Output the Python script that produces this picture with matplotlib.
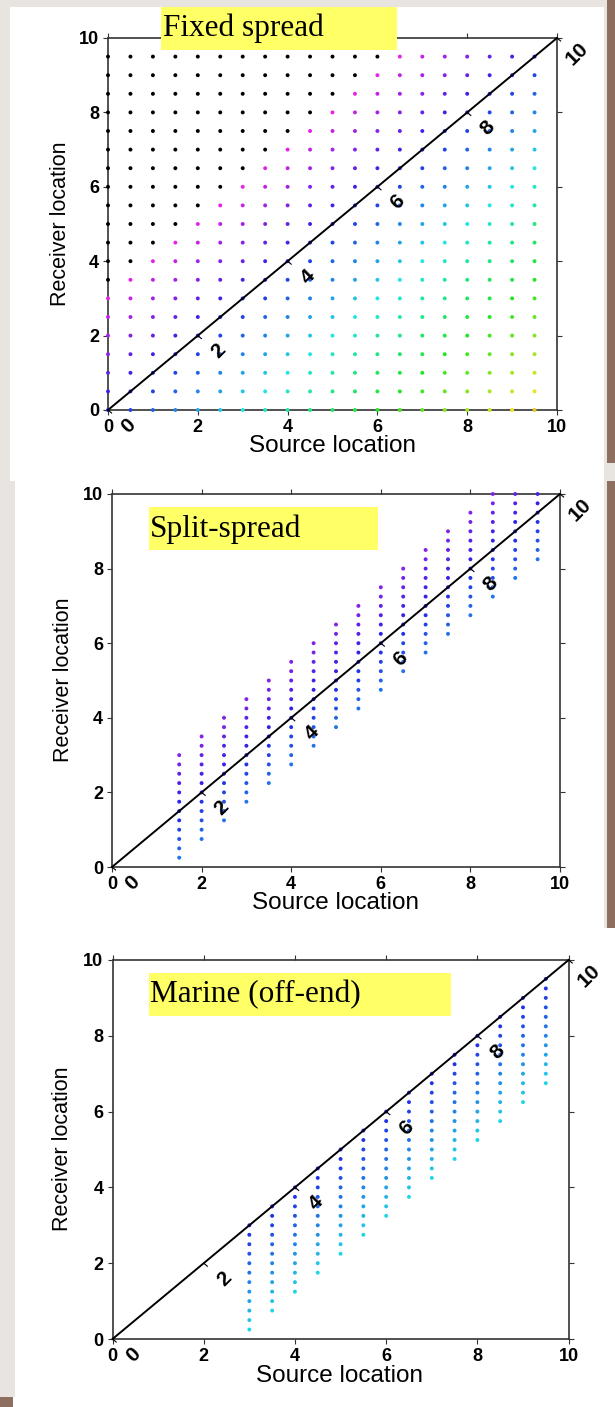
import matplotlib
matplotlib.use("Agg")
import matplotlib.pyplot as plt
from matplotlib.patches import Rectangle
from matplotlib.colors import hsv_to_rgb

# ---------------------------------------------------------------- data
# Fixed spread: every receiver station is live for every shot
FIXED_SOURCES = [0.0, 0.5, 1.0, 1.5, 2.0, 2.5, 3.0, 3.5, 4.0, 4.5,
                 5.0, 5.5, 6.0, 6.5, 7.0, 7.5, 8.0, 8.5, 9.0, 9.5]
FIXED_RECEIVERS = [0.0, 0.5, 1.0, 1.5, 2.0, 2.5, 3.0, 3.5, 4.0, 4.5,
                   5.0, 5.5, 6.0, 6.5, 7.0, 7.5, 8.0, 8.5, 9.0, 9.5]
FIXED_MAX_COLOURED_OFFSET = 3.0   # larger receiver-minus-source offsets plot black

# Split-spread: receivers on both sides of each shot
SPLIT_SOURCES = [1.5, 2.0, 2.5, 3.0, 3.5, 4.0, 4.5, 5.0, 5.5,
                 6.0, 6.5, 7.0, 7.5, 8.0, 8.5, 9.0, 9.5]
SPLIT_OFFSETS = [-1.25, -1.0, -0.75, -0.5, -0.25, 0.0,
                 0.25, 0.5, 0.75, 1.0, 1.25, 1.5]

# Marine (off-end): streamer trails behind the shot
MARINE_SOURCES = [3.0, 3.5, 4.0, 4.5, 5.0, 5.5, 6.0, 6.5,
                  7.0, 7.5, 8.0, 8.5, 9.0, 9.5]
MARINE_OFFSETS = [-2.75, -2.5, -2.25, -2.0, -1.75, -1.5,
                  -1.25, -1.0, -0.75, -0.5, -0.25, 0.0]

LINE_LENGTH = 10.0
AXIS_TICKS = [0, 2, 4, 6, 8, 10]
DIAGONAL_TICKS = [0, 2, 4, 6, 8, 10]
PANEL_TITLES = ["Fixed spread", "Split-spread", "Marine (off-end)"]
X_LABEL = "Source location"
Y_LABEL = "Receiver location"

# ---------------------------------------------------------------- style
W, H, DPI = 615, 1407, 100
BG = "#e8e4e0"
BROWN = "#8d6e5f"
YELLOW = "#ffff66"
SPINE = "#333333"
SANS = ["Liberation Sans", "DejaVu Sans"]
SERIF = ["Liberation Serif", "DejaVu Serif"]


def offset_colour(offset):
    """Rainbow colour keyed to receiver-minus-source offset."""
    hue = 240.0 + 20.0 * offset
    hue = max(40.0, min(300.0, hue))
    return hsv_to_rgb((hue / 360.0, 0.85, 0.9))


def fx(px):
    return px / W


def fy(py):
    return 1.0 - py / H


fig = plt.figure(figsize=(W / DPI, H / DPI), dpi=DPI, facecolor=BG)


def fig_rect(x0, y0, x1, y1, colour, z):
    fig.patches.append(Rectangle((fx(x0), fy(y1)), fx(x1) - fx(x0), fy(y0) - fy(y1),
                                 transform=fig.transFigure, facecolor=colour,
                                 edgecolor="none", zorder=z))


# page backdrop
fig_rect(10, 7, 604, 481, "white", -5)
fig_rect(15, 481, 604, 928, "white", -5)
fig_rect(15, 928, 615, 1397, "white", -5)
fig_rect(13, 1397, 615, 1407, "white", -5)
fig_rect(607, 0, 615, 463, BROWN, -4)
fig_rect(607, 481, 615, 928, BROWN, -4)
fig_rect(0, 1397, 13, 1407, BROWN, -4)

# panel geometry in pixels: axes box, title box, title anchor, label centres
PANELS = [
    dict(ax=(108, 38, 557, 410), box=(161, 7, 397, 50), title=(163, 36),
         xlab=(333, 446), ylab=(60, 224)),
    dict(ax=(112, 494, 560, 867), box=(149, 507, 378, 550), title=(150, 537),
         xlab=(336, 903), ylab=(63, 680)),
    dict(ax=(112.5, 960, 568.6, 1339), box=(149, 973, 451, 1016), title=(150, 1002),
         xlab=(340, 1376), ylab=(63, 1149)),
]


def panel_points(i):
    xs, ys, cs = [], [], []
    if i == 0:
        for s in FIXED_SOURCES:
            for r in FIXED_RECEIVERS:
                off = r - s
                xs.append(s)
                ys.append(r)
                cs.append("black" if off > FIXED_MAX_COLOURED_OFFSET else offset_colour(off))
    else:
        sources = SPLIT_SOURCES if i == 1 else MARINE_SOURCES
        offsets = SPLIT_OFFSETS if i == 1 else MARINE_OFFSETS
        for s in sources:
            for off in offsets:
                r = s + off
                if r < 0 or r > LINE_LENGTH:
                    continue
                xs.append(s)
                ys.append(r)
                cs.append(offset_colour(off))
    return xs, ys, cs


for i, p in enumerate(PANELS):
    x0, y0, x1, y1 = p["ax"]
    ax = fig.add_axes([fx(x0), fy(y1), fx(x1) - fx(x0), fy(y0) - fy(y1)])
    ax.set_facecolor("white")
    ax.set_xlim(0, LINE_LENGTH)
    ax.set_ylim(0, LINE_LENGTH)

    xs, ys, cs = panel_points(i)
    ax.scatter(xs, ys, s=8, c=cs, linewidths=0, clip_on=False, zorder=3)

    # zero-offset diagonal with its own annotated scale
    ax.plot([0, LINE_LENGTH], [0, LINE_LENGTH], color="black", lw=1.4,
            clip_on=False, zorder=4)
    d = 0.08
    for k in DIAGONAL_TICKS:
        ax.plot([k, k + d], [k, k - d], color="black", lw=0.8,
                clip_on=False, zorder=4)
        ax.text(k + 0.45, k - 0.42, str(k), rotation=45, rotation_mode="anchor",
                ha="center", va="center", fontsize=15, fontweight="bold",
                family=SANS, clip_on=False, zorder=5)

    ax.set_xticks(AXIS_TICKS)
    ax.set_yticks(AXIS_TICKS)
    ax.tick_params(direction="out", length=3.5, width=0.8, color=SPINE,
                   top=True, right=True, labeltop=False, labelright=False,
                   pad=3, labelsize=13)
    for lab in ax.get_xticklabels() + ax.get_yticklabels():
        lab.set_fontweight("bold")
        lab.set_family(SANS)
    for sp in ax.spines.values():
        sp.set_color(SPINE)
        sp.set_linewidth(1.2)

    ax.set_xlabel(X_LABEL, fontsize=17.5, family=SANS)
    ax.set_ylabel(Y_LABEL, fontsize=15.5, family=SANS)
    ax.xaxis.set_label_coords((p["xlab"][0] - x0) / (x1 - x0),
                              (y1 - p["xlab"][1]) / (y1 - y0))
    ax.yaxis.set_label_coords((p["ylab"][0] - x0) / (x1 - x0),
                              (y1 - p["ylab"][1]) / (y1 - y0))
    ax.xaxis.label.set_va("center")
    ax.yaxis.label.set_va("center")

    # highlighted panel title
    bx0, by0, bx1, by1 = p["box"]
    fig_rect(bx0, by0, bx1, by1, YELLOW, 6)
    fig.text(fx(p["title"][0]), fy(p["title"][1]), PANEL_TITLES[i],
             fontsize=22.5, family=SERIF, ha="left", va="baseline", zorder=7)

fig.savefig("out.png", dpi=DPI, facecolor=BG)
